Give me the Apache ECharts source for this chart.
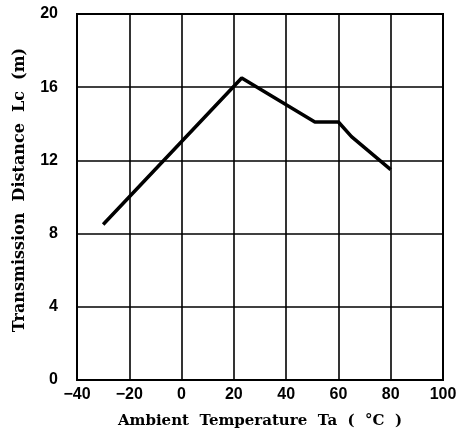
<!DOCTYPE html>
<html>
<head>
<meta charset="utf-8">
<script src="https://cdn.jsdelivr.net/npm/echarts@6/dist/echarts.min.js"></script>
<style>html,body{margin:0;padding:0;background:#fff;}#c{width:464px;height:434px;}</style>
</head>
<body>
<div id="c"></div>
<script>
var temperature = [-30, 23, 51, 60, 65, 70, 80];
var distance = [8.5, 16.5, 14.1, 14.1, 13.3, 12.7, 11.5];
var xTicks = [-40, -20, 0, 20, 40, 60, 80, 100];
var yTicks = [0, 4, 8, 12, 16, 20];
var xTitle = 'Ambient  Temperature  Ta  (  \u00B0C  )';
var yTitle = 'Transmission  Distance  Lc  (m)';

var chart = echarts.init(document.getElementById('c'));
var lbl = {color:'#000', fontFamily:'Liberation Sans', fontWeight:'bold', fontSize:16};
chart.setOption({
  animation:false,
  backgroundColor:'#fff',
  grid:{left:77, right:21, top:14, bottom:54, show:true, borderColor:'#000', borderWidth:2},
  xAxis:{type:'value', min:xTicks[0], max:xTicks[xTicks.length-1], interval:20,
    axisLine:{show:false}, axisTick:{show:false},
    splitLine:{show:true, lineStyle:{color:'#000', width:1.6}},
    axisLabel:Object.assign({margin:7, formatter:function(v){return String(v).replace('-','\u2212');}}, lbl),
    name:xTitle, nameLocation:'middle', nameGap:34,
    nameTextStyle:{color:'#000', fontFamily:'DejaVu Serif', fontWeight:'bold', fontSize:15}},
  yAxis:{type:'value', min:yTicks[0], max:yTicks[yTicks.length-1], interval:4,
    axisLine:{show:false}, axisTick:{show:false},
    splitLine:{show:true, lineStyle:{color:'#000', width:1.6}},
    axisLabel:Object.assign({margin:19}, lbl),
    name:yTitle, nameLocation:'middle', nameGap:49,
    nameTextStyle:{color:'#000', fontFamily:'DejaVu Serif', fontWeight:'bold', fontSize:16, padding:[0,0,0,14]}},
  series:[{type:'line', data:temperature.map(function(t,i){return [t, distance[i]];}),
    showSymbol:false, lineStyle:{color:'#000', width:3.5}}]
});
</script>
</body>
</html>
